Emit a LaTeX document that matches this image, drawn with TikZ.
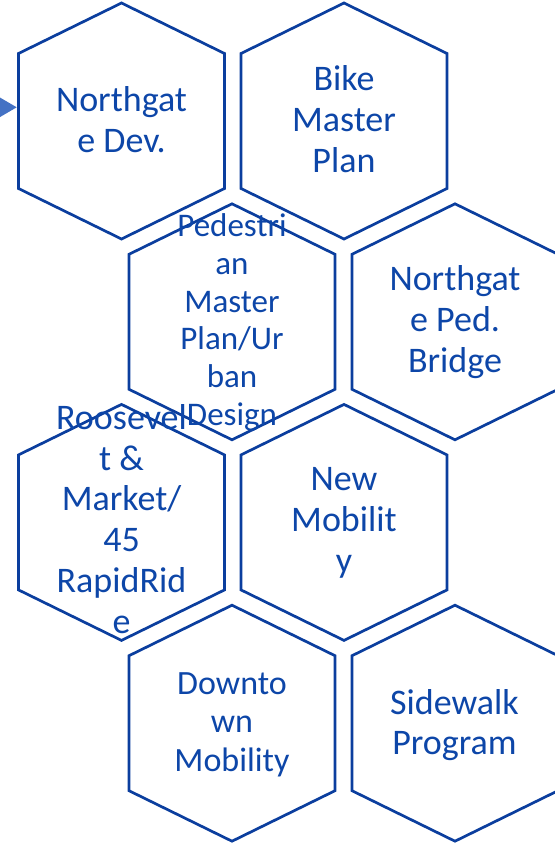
\documentclass[tikz,border=0pt]{standalone}
\usepackage{fontspec}
\setmainfont{Carlito}
\definecolor{hexblue}{HTML}{0B3E9E}
\definecolor{txtblue}{HTML}{0D46A8}
\definecolor{arrowblue}{HTML}{4472C4}
\newcommand{\hexat}[2]{%
  \draw[hexline, shift={(#1,#2)}] (0,-118) -- (103,-67.5) -- (103,67.5) -- (0,118)
    -- (-103,67.5) -- (-103,-67.5) -- cycle;}
\newcommand{\lines}[1]{\begin{tabular}[t]{@{}c@{}}#1\end{tabular}}
\begin{document}
\begin{tikzpicture}[x=1pt,y=-1pt,
  hexline/.style={draw=hexblue, line width=2.7pt, line join=miter},
  hextext/.style={text=txtblue, inner sep=0pt, anchor=base},
  big/.style={font=\fontsize{36}{40.8}\selectfont},
  mid/.style={font=\fontsize{34}{38.5}\selectfont},
  small/.style={font=\fontsize{33}{37.7}\selectfont}]
\useasboundingbox (0,0) rectangle (554,843);
% hexagons
\hexat{121.5}{121}
\hexat{344}{121}
\hexat{232}{321.8}
\hexat{455}{321.8}
\hexat{121.5}{522.4}
\hexat{344}{522.4}
\hexat{232}{723.2}
\hexat{455}{723.2}
% arrow head
\fill[arrowblue] (-3,95.8) -- (16.7,107.3) -- (-3,118.8) -- cycle;
% texts
\node[hextext, big] (t1) at (121.5,111.7) {\lines{Northgat\\e Dev.}};
\node[hextext, big] (t2) at (344,90.7) {\lines{Bike\\Master\\Plan}};
\node[hextext, small] (t3) at (232,236.7) {\lines{Pedestri\\an\\Master\\Plan/Ur\\ban\\Design}};
\node[hextext, big] (t4) at (455,290.7) {\lines{Northgat\\e Ped.\\Bridge}};
\node[hextext, big] (t5) at (121.5,429.3) {\lines{Roosevel\\t \&\\Market/\\45\\RapidRid\\e}};
\node[hextext, big] (t6) at (344,490.7) {\lines{New\\Mobilit\\y}};
\node[hextext, mid] (t7) at (232,694) {\lines{Downto\\wn\\Mobility}};
\node[hextext, big] (t8) at (454.5,714) {\lines{Sidewalk\\Program}};
\end{tikzpicture}
\end{document}
